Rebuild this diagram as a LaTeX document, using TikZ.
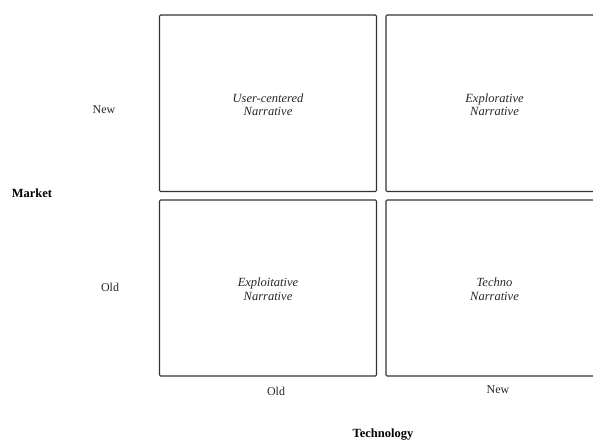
\documentclass[tikz,border=0pt]{standalone}
\usepackage{fontspec}
\setmainfont{Liberation Serif}
\begin{document}
\begin{tikzpicture}[x=1pt,y=-1pt,
  quad/.style={draw=black!80,line width=1.1pt,rounded corners=1.2pt,fill=none},
  cell/.style={font=\fontsize{12.5}{13.5}\selectfont\itshape,align=center,text=black!85},
  tick/.style={font=\fontsize{12}{13.5}\selectfont,text=black!85},
  axis/.style={font=\fontsize{12.5}{13.5}\selectfont\bfseries,text=black}]
  \useasboundingbox (0,0) rectangle (593,441);
  \begin{scope}
    \clip (0,0) rectangle (593,441);
    % four quadrants of the market/technology matrix
    \draw[quad] (159.5,15) rectangle (376.5,191.5);
    \draw[quad] (386,15) rectangle (603,191.5);
    \draw[quad] (159.5,200) rectangle (376.5,376);
    \draw[quad] (386,200) rectangle (603,376);
  \end{scope}
  \node[cell] (un) at (268,104.5) {User-centered\\Narrative};
  \node[cell] (en) at (494.5,104.5) {Explorative\\Narrative};
  \node[cell] (xn) at (268,289) {Exploitative\\Narrative};
  \node[cell] (tn) at (494.5,289) {Techno\\Narrative};
  % market axis
  \node[tick] (mnew) at (104,110) {New};
  \node[tick] (mold) at (110,287) {Old};
  \node[axis] (market) at (32,193) {Market};
  % technology axis
  \node[tick] (told) at (276,391) {Old};
  \node[tick] (tnew) at (498,390) {New};
  \node[axis] (tech) at (383,435) {Technology};
\end{tikzpicture}
\end{document}
